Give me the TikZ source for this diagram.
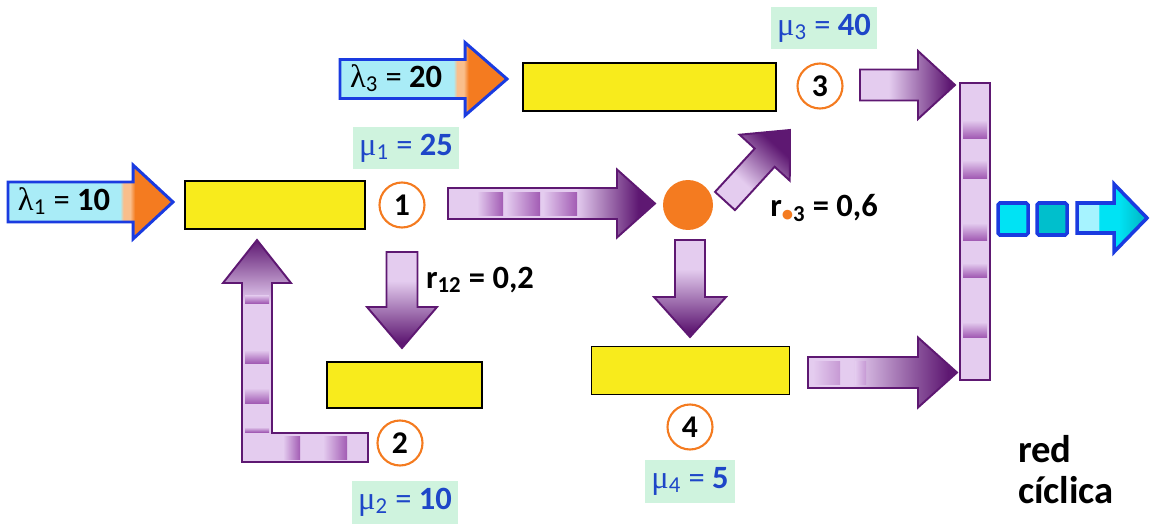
\documentclass[tikz,border=0pt]{standalone}
\usepackage{fontspec}
\setmainfont{Carlito}
\newfontfamily\griega{Liberation Serif}
\usepackage{tikz}
\usetikzlibrary{calc,positioning}

\definecolor{amarillo}{HTML}{F8EB1C}
\definecolor{naranja}{HTML}{F47B20}
\definecolor{naranjaclaro}{HTML}{F9BE8C}
\definecolor{morado}{HTML}{5E1872}
\definecolor{lavanda}{HTML}{E4CCEF}
\definecolor{franja}{HTML}{A25CB4}
\definecolor{azul}{HTML}{1E46C8}
\definecolor{azulborde}{HTML}{1A3BE0}
\definecolor{verde}{HTML}{CFF3DE}
\definecolor{celeste}{HTML}{A9ECF7}
\definecolor{cian}{HTML}{00E3F4}
\definecolor{cianoscuro}{HTML}{00BFCC}
\definecolor{cianclaro}{HTML}{A6F3FF}

\pgfdeclarehorizontalshading{entrada}{100bp}{color(0bp)=(celeste); color(59bp)=(celeste); color(60bp)=(naranjaclaro); color(62bp)=(naranjaclaro); color(63.5bp)=(naranja); color(100bp)=(naranja)}
\pgfdeclarehorizontalshading{tubo}{100bp}{color(0bp)=(lavanda); color(40bp)=(lavanda); color(72bp)=(morado); color(100bp)=(morado)}
\pgfdeclarehorizontalshading{tubolargo}{100bp}{color(0bp)=(lavanda); color(56bp)=(lavanda); color(71bp)=(morado); color(100bp)=(morado)}
\pgfdeclarehorizontalshading{codo}{100bp}{color(0bp)=(lavanda); color(61bp)=(lavanda); color(75bp)=(morado); color(100bp)=(morado)}
\pgfdeclarehorizontalshading{salida}{100bp}{color(0bp)=(cianclaro); color(40bp)=(cianclaro); color(41bp)=(cian); color(55bp)=(cian); color(70bp)=(cianoscuro); color(100bp)=(cianoscuro)}

% [estilo]{cola}{punta}{medio cuerpo}{media punta}{largo punta}
\newcommand{\flecha}[6][]{%
  \coordinate (fc) at ($(#3)!#6!(#2)$);
  \draw[#1] ($(#2)!#4!90:(#3)$) -- ($(fc)!#4!90:(#3)$) -- ($(fc)!#5!90:(#3)$) -- (#3)
    -- ($(fc)!#5!-90:(#3)$) -- ($(fc)!#4!-90:(#3)$) -- ($(#2)!#4!-90:(#3)$) -- cycle;
}

\begin{document}
\begin{tikzpicture}[
  x=0.02cm, y=-0.02cm,
  cola/.style={draw=black, line width=1.1pt, fill=amarillo, minimum height=0.96cm, inner sep=0pt},
  num/.style={circle, draw=naranja, line width=1.2pt, fill=white, minimum size=0.9cm, inner sep=0pt, font=\fontsize{18}{18}\bfseries},
  tasa/.style={fill=verde, text=azul, inner xsep=0.13cm, minimum height=0.86cm, font=\fontsize{18.5}{18.5}\selectfont},
  texto/.style={inner sep=1pt, font=\fontsize{18.5}{18.5}\selectfont},
  morada/.style={draw=morado, line width=1.1pt, line join=miter},
  entra/.style={draw=azulborde, line width=1.7pt, shading=entrada},
  franjah/.style={left color=lavanda, right color=franja},
  franjav/.style={top color=lavanda, bottom color=franja}
]
\useasboundingbox (0,0) rectangle (1150,524);

\node[cola, minimum width=3.6cm] (s1) at (275,205) {};
\node[cola, minimum width=3.1cm, minimum height=0.92cm] (s2) at (404.5,385) {};
\node[cola, minimum width=5.06cm] (s3) at (649.5,87) {};
\node[cola, minimum width=3.96cm] (s4) at (690.5,370.5) {};

\node[num] (c1) at (402,205) {1};
\node[num] (c2) at (400,443) {2};
\node[num] (c3) at (820,86) {3};
\node[num] (c4) at (690,427) {4};
\node[circle, fill=naranja, minimum size=1cm, inner sep=0pt] (dot) at (688,205) {};

\node[draw=morado, line width=1.1pt, fill=lavanda, minimum width=0.6cm, minimum height=5.94cm, inner sep=0pt] (col) at (975,231.5) {};
\foreach \a/\b in {120/138,160/178,223/240,263/277,322/337}
  \fill[franjav] (963,\a) rectangle (987,\b);

% llegadas
\coordinate (e1a) at (8,202);    \coordinate (e1b) at (173,202);
\coordinate (e3a) at (340,79);   \coordinate (e3b) at (507,79);
\flecha[entra]{e1a}{e1b}{0.4cm}{0.74cm}{0.8cm}
\flecha[entra]{e3a}{e3b}{0.39cm}{0.73cm}{0.84cm}

% flujos internos
\coordinate (f1a) at (448,203.5); \coordinate (f1b) at (655,203.5);
\coordinate (f3a) at (725,201);   \coordinate (f3b) at (790,130);
\coordinate (f4a) at (690,240);   \coordinate (f4b) at (690,337);
\coordinate (f2a) at (402,252);   \coordinate (f2b) at (402,348);
\coordinate (g3a) at (860,85);    \coordinate (g3b) at (955,85);
\coordinate (g4a) at (808,372.5); \coordinate (g4b) at (957,372.5);
\flecha[morada, shading=tubolargo]{f1a}{f1b}{0.31cm}{0.68cm}{0.76cm}
\flecha[morada, shading=tubo, shading angle=47.5]{f3a}{f3b}{0.27cm}{0.68cm}{0.75cm}
\flecha[morada, shading=tubo, shading angle=-90]{f4a}{f4b}{0.3cm}{0.72cm}{0.8cm}
\flecha[morada, shading=tubo, shading angle=-90]{f2a}{f2b}{0.31cm}{0.7cm}{0.82cm}
\flecha[morada, shading=tubo]{g3a}{g3b}{0.31cm}{0.68cm}{0.74cm}
\flecha[morada, shading=tubo]{g4a}{g4b}{0.31cm}{0.7cm}{0.78cm}
\foreach \a/\b in {477/503,506/540,543/577}
  \fill[franjah] (\a,192) rectangle (\b,215);
\foreach \a/\b in {813/840,855/866}
  \fill[left color=lavanda, right color=franja!45!lavanda] (\a,361) rectangle (\b,384);

% retorno de 2 a 1
\coordinate (la) at (368,447.5);
\coordinate (lb) at (257,240);
\draw[morada, shading=codo, shading angle=90] ($(la)+(0,-14.5)$) -| ($(lb)+(15,43)$) -- ++(19,0) -- (lb)
  -- ++(-34,43) -- ++(19,0) |- ($(la)+(0,14.5)$) -- cycle;
\foreach \a/\b in {295/303,350/363,388/403,427/432}
  \fill[franjav] (245,\a) rectangle (269,\b);
\foreach \a/\b in {283/300,323/347}
  \fill[franjah] (\a,436) rectangle (\b,459);

% salida
\node[draw=azulborde, line width=2pt, fill=cian, rounded corners=1pt, minimum width=0.6cm, minimum height=0.64cm] (p1) at (1013,219) {};
\node[draw=azulborde, line width=2pt, fill=cianoscuro, rounded corners=1pt, minimum width=0.6cm, minimum height=0.64cm] (p2) at (1052,219) {};
\coordinate (sa) at (1077,218); \coordinate (sb) at (1147,218);
\flecha[draw=azulborde, line width=2pt, shading=salida]{sa}{sb}{0.3cm}{0.68cm}{0.66cm}

% rotulos
\node[texto] (l1) at (64,201) {{\griega λ}\textsubscript{1} = \textbf{10}};
\node[texto] (l3) at (396,78) {{\griega λ}\textsubscript{3} = \textbf{20}};
\node[tasa] (m1) at (406,148) {{\griega μ}\textsubscript{1} = \textbf{25}};
\node[tasa] (m2) at (405,502) {{\griega μ}\textsubscript{2} = \textbf{10}};
\node[tasa] (m3) at (824,28) {{\griega μ}\textsubscript{3} = \textbf{40}};
\node[tasa] (m4) at (690,481) {{\griega μ}\textsubscript{4} = \textbf{5}};
\node[texto, font=\fontsize{18.5}{18.5}\bfseries] (r12) at (480,280) {r\textsubscript{12} = 0,2};
\node[texto, font=\fontsize{18.5}{18.5}\bfseries] (r3) at (824,208) {r\textsubscript{\textcolor{naranja}{•}3} = 0,6};
\node[texto, anchor=base west, font=\fontsize{22}{22}\bfseries] (red) at (1016,462) {red};
\node[texto, anchor=base west, font=\fontsize{22}{22}\bfseries] (ciclica) at (1016,503) {cíclica};
\end{tikzpicture}
\end{document}
